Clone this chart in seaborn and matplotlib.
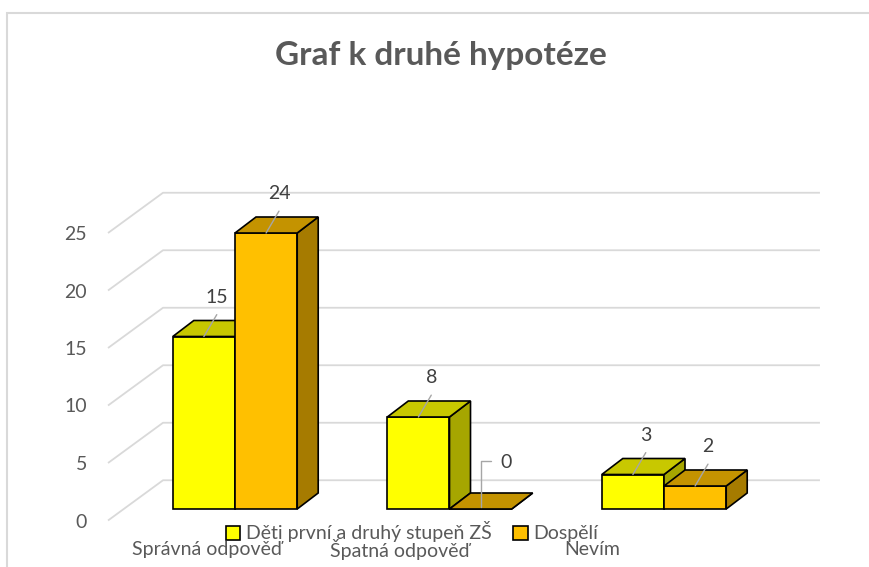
import pandas as pd
import matplotlib
matplotlib.use("Agg")
import matplotlib.pyplot as plt
from matplotlib.patches import Polygon, Rectangle
import seaborn as sns

# data
categories = ["Správná odpověď", "Špatná odpověď", "Nevím"]
series = ["Děti první a druhý stupeň ZŠ", "Dospělí"]
deti = [15, 8, 3]
dospeli = [24, 0, 2]
y_ticks = [0, 5, 10, 15, 20, 25]

df = pd.DataFrame({
    "odpoved": categories * 2,
    "skupina": [series[0]] * 3 + [series[1]] * 3,
    "pocet": deti + dospeli,
})

sns.set_theme(style="white")
plt.rcParams["font.family"] = ["Lato", "DejaVu Sans"]

TEXT = "#595959"
LABEL = "#404040"
GRID = "#D9D9D9"
LEADER = "#A6A6A6"
front = {series[0]: "#FFFF00", series[1]: "#FFC000"}
top_c = ["#C8C800", "#C49300"]
side_c = ["#A6A600", "#A67B00"]

W, H = 870, 567
fig = plt.figure(figsize=(W / 100, H / 100), dpi=100)

# axes placed so that category 0 sits at x=235px, zero at y=509px
px_x, px_y = 214.5, 11.5
xlim = (-0.65, 2.75)
ylim = (-1.5, 30)
left = 235 + xlim[0] * px_x
right = 235 + xlim[1] * px_x
bottom = 509 - ylim[0] * px_y
top = 509 - ylim[1] * px_y
ax = fig.add_axes([left / W, 1 - bottom / H, (right - left) / W, (bottom - top) / H])

sns.barplot(data=df, x="odpoved", y="pocet", hue="skupina", palette=front,
            width=0.58, gap=0, edgecolor="black", linewidth=1.2,
            saturation=1, ax=ax, legend=True)
ax.set_xlim(*xlim)
ax.set_ylim(*ylim)

# 3D depth of the bars and of the back wall, in data units
dx, dy = 21 / px_x, 16 / px_y
wall_dx, wall_x0, wall_x1 = 55 / px_x, -0.592, 2.727

# floor/back-wall gridlines
for v in y_ticks:
    yf, yb = v - 1.0, v + 2.5
    ax.plot([wall_x0, wall_x0 + wall_dx, wall_x1], [yf, yb, yb],
            color=GRID, lw=1.3, zorder=0.5, solid_capstyle="butt")
ax.set_yticks([v - 1.0 for v in y_ticks], labels=[str(v) for v in y_ticks])
ax.tick_params(axis="y", length=0, pad=6, labelsize=14, labelcolor=TEXT)
ax.set_xticks([])
ax.set_xlabel("")
ax.set_ylabel("")
for s in ax.spines.values():
    s.set_visible(False)

# side and top faces, plus data labels
for k, cont in enumerate(ax.containers):
    for bar, val in zip(cont.patches, cont.datavalues):
        x, w, h = bar.get_x(), bar.get_width(), bar.get_height()
        z = 2 + k
        bar.set_zorder(z)
        topf = Polygon([(x, h), (x + w, h), (x + w + dx, h + dy), (x + dx, h + dy)],
                       closed=True, facecolor=top_c[k], edgecolor="black", lw=1.2, zorder=z)
        sidef = Polygon([(x + w, 0), (x + w + dx, dy), (x + w + dx, h + dy), (x + w, h)],
                        closed=True, facecolor=side_c[k], edgecolor="black", lw=1.2, zorder=z)
        ax.add_patch(sidef)
        ax.add_patch(topf)
        cx = x + w / 2
        if val > 0:
            ax.plot([cx, cx + 0.06], [h, h + 1.9], color=LEADER, lw=1, zorder=6)
            ax.text(cx + 0.06, h + 3.4, f"{val:g}", ha="center", va="center",
                    fontsize=14, color=LABEL, zorder=6)
        else:
            ax.plot([cx, cx, cx + 0.05], [0.15, 4.2, 4.2], color=LEADER, lw=1, zorder=6)
            ax.text(cx + 0.09, 4.0, f"{val:g}", ha="left", va="center",
                    fontsize=14, color=LABEL, zorder=6)

# category labels (perspective pulls them slightly left)
for i, c in enumerate(categories):
    ax.text(-0.131 + 0.897 * i, -3.5, c, ha="center", va="center",
            fontsize=14, color=TEXT, clip_on=False)

handles, labels = ax.get_legend_handles_labels()
ax.legend(handles, labels, loc="center", bbox_to_anchor=(412 / W, 1 - 532 / H),
          bbox_transform=fig.transFigure, ncol=2, frameon=False, fontsize=14,
          handlelength=0.75, handleheight=0.75, handletextpad=0.3, columnspacing=1.1,
          labelcolor=TEXT)

fig.text(441 / W, 1 - 55 / H, "Graf k druhé hypotéze", ha="center", va="center",
         fontsize=24, fontweight="bold", color=TEXT)

fig.add_artist(Rectangle((7.5 / W, -0.1), (W + 20) / W, 1.1 - 13 / H, transform=fig.transFigure,
                         fill=False, edgecolor=GRID, lw=1.5))

fig.savefig("out.png", dpi=100)
